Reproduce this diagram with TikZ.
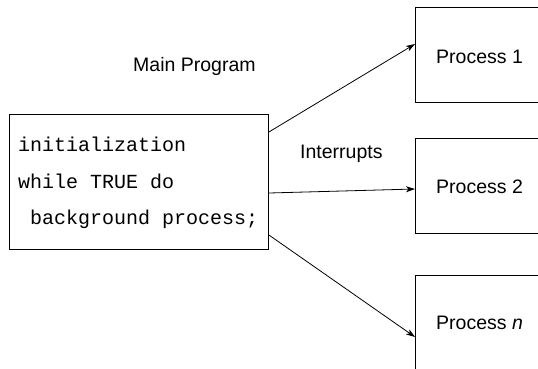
\documentclass[tikz,border=0pt]{standalone}
\usepackage{fontspec}
\setmainfont{Liberation Sans}
\setmonofont{Liberation Mono}
\usetikzlibrary{arrows.meta,calc}
\begin{document}
\begin{tikzpicture}[x=1pt,y=-1pt,
  box/.style={draw,line width=0.9pt,rectangle,inner sep=0pt,anchor=north west},
  code/.style={anchor=base west,inner sep=0pt,font=\ttfamily\fontsize{20}{24}\selectfont},
  lbl/.style={anchor=base west,inner sep=0pt,font=\fontsize{19.5}{23}\selectfont},
  arr/.style={line width=0.8pt,-{Stealth[length=9pt,width=6pt,inset=2.5pt]}}]
\useasboundingbox (0,0) rectangle (538,368);
\clip (0,0) rectangle (538,368);
\node[box,minimum width=259pt,minimum height=135pt] (main) at (9,114) {};
\node[box,minimum width=160pt,minimum height=95pt] (p1) at (415,7) {};
\node[box,minimum width=160pt,minimum height=95pt] (p2) at (415,138) {};
\node[box,minimum width=160pt,minimum height=120pt] (pn) at (415,275) {};
\node[code] (c1) at (18,151) {initialization};
\node[code] (c2) at (18,188) {while TRUE do};
\node[code] (c3) at (18,224) {\ background process;};
\node[lbl] (mp) at (133,71) {Main Program};
\node[lbl] (ir) at (300,158) {Interrupts};
\node[lbl] (t1) at (436,63) {Process 1};
\node[lbl] (t2) at (436,193) {Process 2};
\node[lbl] (tn) at (436,329) {Process \textit{n}};
\coordinate (s1) at ($(main.north east)+(0,18)$);
\coordinate (s2) at ($(main.north east)+(0,79)$);
\coordinate (s3) at ($(main.north east)+(0,121)$);
\coordinate (e1) at ($(p1.north west)+(0,37)$);
\coordinate (e2) at ($(p2.north west)+(0,51)$);
\coordinate (e3) at ($(pn.north west)+(0,62)$);
\draw[arr] (s1) -- (e1);
\draw[arr] (s2) -- (e2);
\draw[arr] (s3) -- (e3);
\end{tikzpicture}
\end{document}
